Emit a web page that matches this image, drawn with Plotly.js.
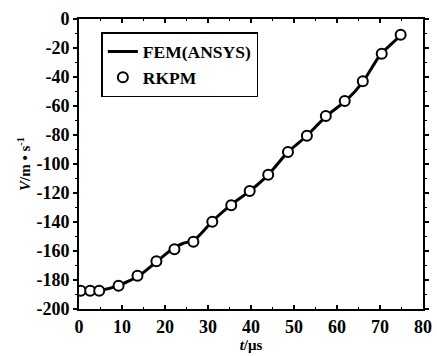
<!DOCTYPE html>
<html><head><meta charset="utf-8">
<script src="https://cdn.plot.ly/plotly-3.0.1.min.js"></script>
<style>html,body{margin:0;padding:0;background:#fff;}#chart{width:437px;height:356px;}</style>
</head><body><div id="chart"></div>
<script>
const femT = [0, 5, 9, 14, 18, 22, 24, 27, 31, 35, 40, 44, 48.5, 53, 57.5, 62, 66, 70, 75];
const femV = [-187.5, -187, -184, -177, -167.5, -158, -155, -152, -139.5, -129, -118, -107.5, -92, -80.5, -67, -56.5, -43.5, -25, -11];
const rkpmT = [0.4, 2.6, 4.7, 9.2, 13.6, 18, 22.2, 26.6, 31, 35.4, 39.7, 44, 48.6, 53, 57.4, 61.8, 66, 70.4, 74.8];
const rkpmV = [-187.4, -187.4, -187.4, -183.9, -177, -167, -158.8, -153.6, -139.8, -128.5, -118.6, -107.4, -91.7, -80.5, -66.9, -56.6, -43, -23.9, -10.8];
const xTicks = [0, 10, 20, 30, 40, 50, 60, 70, 80];
const yTicks = [0, -20, -40, -60, -80, -100, -120, -140, -160, -180, -200];

const font = {family: '"Liberation Serif", "Times New Roman", serif', color: '#000'};
const traces = [
  {x: femT, y: femV, mode: 'lines', name: '<b>FEM(ANSYS)</b>',
   line: {color: '#000', width: 3, shape: 'spline', smoothing: 0.6}},
  {x: rkpmT, y: rkpmV, mode: 'markers', name: '<b>RKPM</b>',
   marker: {symbol: 'circle', size: 10, color: '#fff', line: {color: '#000', width: 2}}}
];
const layout = {
  width: 437, height: 356,
  margin: {l: 79, r: 14, t: 19, b: 47},
  paper_bgcolor: '#fff', plot_bgcolor: '#fff',
  font: Object.assign({size: 17}, font),
  showlegend: true,
  legend: {x: 0.065, y: 0.955, xanchor: 'left', yanchor: 'top',
    bgcolor: '#fff', bordercolor: '#000', borderwidth: 1.5,
    font: Object.assign({size: 17.5}, font), tracegroupgap: 0, itemwidth: 30},
  xaxis: {range: [0, 80], tickvals: xTicks, ticktext: xTicks.map(v => '<b>' + v + '</b>'),
    ticks: 'inside', ticklen: 4, tickcolor: '#000', tickwidth: 1.5,
    showline: true, linecolor: '#000', linewidth: 2, mirror: 'ticks',
    showgrid: false, zeroline: false,
    minor: {dtick: 5, ticks: 'inside', ticklen: 2, tickcolor: '#000'},
    tickfont: Object.assign({size: 18}, font),
    title: {text: '<b><i>t</i>/μs</b>', font: Object.assign({size: 15}, font), standoff: 0}},
  yaxis: {range: [-200, 0], tickvals: yTicks, ticktext: yTicks.map(v => '<b>' + v + '</b>'),
    ticks: 'outside', ticklen: 4, tickcolor: '#000', tickwidth: 1.5,
    showline: true, linecolor: '#000', linewidth: 2, mirror: 'ticks',
    showgrid: false, zeroline: false,
    minor: {dtick: 10, ticks: 'outside', ticklen: 2, tickcolor: '#000'},
    tickfont: Object.assign({size: 18}, font),
    title: {text: '<b><i>V</i>/m • s<sup>-1</sup></b>', font: Object.assign({size: 15}, font), standoff: 2}}
};
Plotly.newPlot('chart', traces, layout, {staticPlot: true, displayModeBar: false});
</script></body></html>
